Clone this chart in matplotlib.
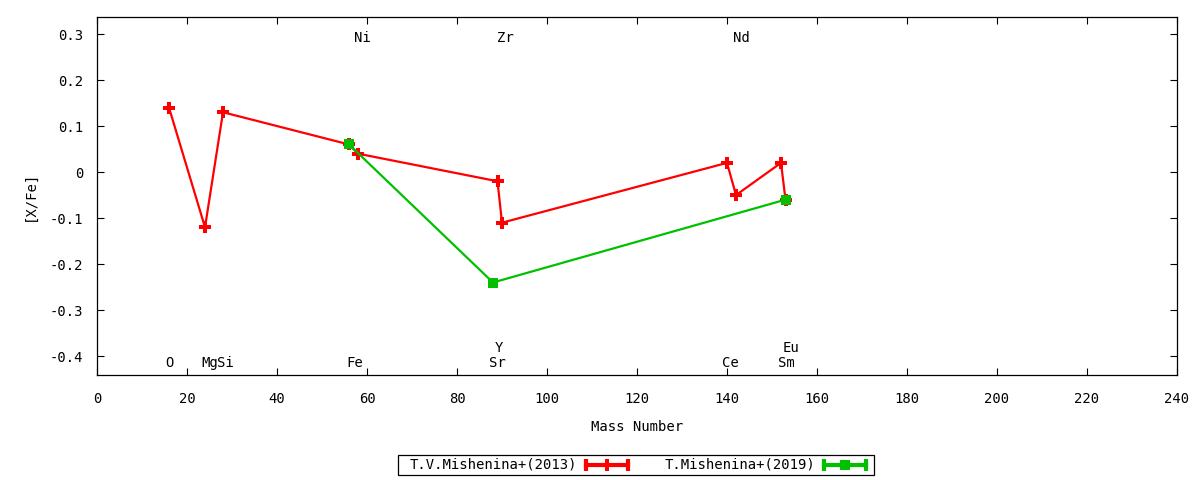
import matplotlib
matplotlib.use("Agg")
import matplotlib.pyplot as plt
from matplotlib.patches import Rectangle

# Data
red_label = "T.V.Mishenina+(2013)"
red_mass = [16, 24, 28, 56, 58, 89, 90, 140, 142, 152, 153]
red_val = [0.14, -0.12, 0.13, 0.06, 0.04, -0.02, -0.11, 0.02, -0.05, 0.02, -0.06]

green_label = "T.Mishenina+(2019)"
green_mass = [56, 88, 153]
green_val = [0.06, -0.24, -0.06]

# Element labels
elem_names = ["O", "Mg", "Si", "Fe", "Ni", "Sr", "Y", "Zr", "Ce", "Nd", "Sm", "Eu"]
elem_xpos = [16.2, 25.0, 28.6, 57.2, 59.0, 89.0, 89.4, 90.8, 140.7, 143.1, 153.1, 154.2]
elem_row = ["bottom", "bottom", "bottom", "bottom", "top", "bottom", "bottom2",
            "top", "bottom", "top", "bottom", "bottom2"]

xticks = list(range(0, 241, 20))
yticks = [-0.4, -0.3, -0.2, -0.1, 0, 0.1, 0.2, 0.3]
ytick_labels = ["-0.4", "-0.3", "-0.2", "-0.1", "0", "0.1", "0.2", "0.3"]

RED = "#ff0000"
GREEN = "#00c000"
FONT = "DejaVu Sans Mono"
FS = 10

plt.rcParams['font.family'] = [FONT]

fig = plt.figure(figsize=(12, 4.8), dpi=100)
ax = fig.add_axes([97/1200, 1 - 375/480, (1177-97)/1200, (375-17)/480])

ax.plot(red_mass, red_val, color=RED, lw=1.6, marker="P", ms=8, mew=0, zorder=3)
ax.plot(green_mass, green_val, color=GREEN, lw=1.6, marker="s", ms=7.5, mew=0, zorder=4)

ax.set_xlim(0, 240)
ax.set_ylim(-0.441, 0.337)
ax.set_xticks(xticks)
ax.set_xticklabels([str(t) for t in xticks], fontsize=FS)
ax.set_yticks(yticks)
ax.set_yticklabels(ytick_labels, fontsize=FS)
ax.tick_params(direction="in", length=5, width=0.8, top=True, right=True)
ax.tick_params(axis="x", pad=12)
ax.tick_params(axis="y", pad=10)
for s in ax.spines.values():
    s.set_linewidth(0.9)

rowy = {"top": 0.291, "bottom": -0.415, "bottom2": -0.383}
for n, xp, r in zip(elem_names, elem_xpos, elem_row):
    ax.text(xp, rowy[r], n, ha="center", va="center", fontsize=FS)

ax.set_xlabel("Mass Number", fontsize=FS, labelpad=10)
ax.set_ylabel("[X/Fe]", fontsize=FS, labelpad=9)

# Legend (drawn in gnuplot style)
lax = fig.add_axes([0, 0, 1, 1], facecolor="none")
lax.set_xlim(0, 1200)
lax.set_ylim(480, 0)
lax.axis("off")
lax.add_patch(Rectangle((398, 455), 476, 20, fill=False, lw=0.9, ec="black"))
lax.text(577, 465, red_label, ha="right", va="center", fontsize=FS)
lax.plot([586, 628], [465, 465], color=RED, lw=3)
lax.plot([586, 628], [465, 465], ls="none", marker="|", ms=8, mew=3, color=RED)
lax.plot([607], [465], ls="none", marker="P", ms=8, mew=0, color=RED)
lax.text(815, 465, green_label, ha="right", va="center", fontsize=FS)
lax.plot([824, 866], [465, 465], color=GREEN, lw=3)
lax.plot([824, 866], [465, 465], ls="none", marker="|", ms=8, mew=3, color=GREEN)
lax.plot([845], [465], ls="none", marker="s", ms=7, mew=0, color=GREEN)

fig.savefig("out.png", dpi=100)
